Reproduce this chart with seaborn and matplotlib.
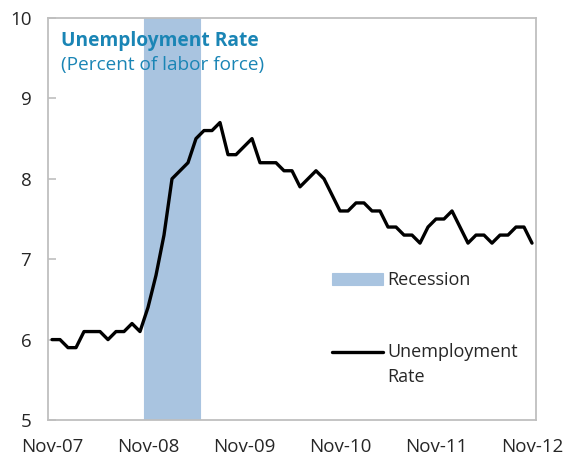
import pandas as pd
import numpy as np
import matplotlib
matplotlib.use('Agg')
import matplotlib.pyplot as plt
import seaborn as sns
from matplotlib.legend_handler import HandlerLine2D

# Tasa de desempleo mensual, Nov-07 a Nov-12
tasa = [6.0, 6.0, 5.9, 5.9, 6.1, 6.1, 6.1, 6.0, 6.1, 6.1, 6.2, 6.1,
        6.4, 6.8, 7.3, 8.0, 8.1, 8.2, 8.5, 8.6, 8.6, 8.7, 8.3, 8.3,
        8.4, 8.5, 8.2, 8.2, 8.2, 8.1, 8.1, 7.9, 8.0, 8.1, 8.0, 7.8,
        7.6, 7.6, 7.7, 7.7, 7.6, 7.6, 7.4, 7.4, 7.3, 7.3, 7.2, 7.4,
        7.5, 7.5, 7.6, 7.4, 7.2, 7.3, 7.3, 7.2, 7.3, 7.3, 7.4, 7.4, 7.2]
meses_recesion = ['2008-11', '2008-12', '2009-01', '2009-02',
                  '2009-03', '2009-04', '2009-05']
etiquetas_x = ['Nov-07', 'Nov-08', 'Nov-09', 'Nov-10', 'Nov-11', 'Nov-12']
ticks_y = [5, 6, 7, 8, 9, 10]

fechas = pd.date_range('2007-11-01', periods=len(tasa), freq='MS')
df = pd.DataFrame({
    'mes': range(len(tasa)),
    'tasa': tasa,
    'recesion': [10 if f.strftime('%Y-%m') in meses_recesion else 0 for f in fechas],
})

sns.set_style('white')
plt.rcParams['font.family'] = ['Open Sans', 'DejaVu Sans']

fig = plt.figure(figsize=(5.65, 4.62), dpi=100)
ax = fig.add_axes([48 / 565, 42 / 462, 488 / 565, 402 / 462])

color_rec = '#A9C4E0'
ax.bar(df['mes'], df['recesion'], width=1.0, color=color_rec, edgecolor=color_rec,
       linewidth=0.8, label='Recession', zorder=1)
sns.lineplot(data=df, x='mes', y='tasa', color='black', linewidth=2.4, ax=ax,
             label='Unemployment\nRate', zorder=3)

ax.set_xlim(-0.5, 60.5)
ax.set_ylim(5, 10)
ax.set_xticks(range(0, 61, 12))
ax.set_xticklabels(etiquetas_x)
ax.set_yticks(ticks_y)
ax.set_xlabel('')
ax.set_ylabel('')
ax.tick_params(axis='x', length=0, pad=13, labelsize=13.5)
ax.tick_params(axis='y', direction='in', length=6, width=1.2, color='#BFBFBF',
               pad=12, labelsize=13.5, left=True)
for s in ax.spines.values():
    s.set_color('#BFBFBF')
    s.set_linewidth(1.3)

# titulo dentro del area
ax.text(0.027, 0.968, 'Unemployment Rate', transform=ax.transAxes, ha='left', va='top',
        fontsize=13.8, fontweight='bold', color='#1A85B5')
ax.text(0.027, 0.905, '(Percent of labor force)', transform=ax.transAxes, ha='left', va='top',
        fontsize=13.7, color='#1A85B5')


class LineaArriba(HandlerLine2D):
    def create_artists(self, legend, orig_handle, xdescent, ydescent, width, height, fontsize, trans):
        return super().create_artists(legend, orig_handle, xdescent, ydescent - 1.4 * fontsize,
                                      width, height, fontsize, trans)


handles, labels = ax.get_legend_handles_labels()
linea = [h for h in handles if isinstance(h, matplotlib.lines.Line2D)][0]
barras = [h for h in handles if h is not linea][0]
leg = ax.legend([barras, linea], ['Recession', 'Unemployment\nRate'], loc='upper left',
                bbox_to_anchor=(0.582, 0.370), frameon=False,
                fontsize=13, borderpad=0, borderaxespad=0, handlelength=2.8, handletextpad=0.25,
                labelspacing=2.95, handler_map={linea: LineaArriba()})
for t in leg.get_texts():
    t.set_linespacing(1.5)

plt.savefig('out.png', dpi=100)
